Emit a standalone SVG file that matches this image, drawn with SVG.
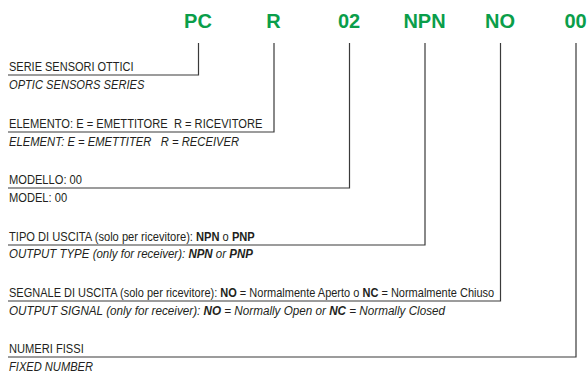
<svg xmlns="http://www.w3.org/2000/svg" width="587" height="372" viewBox="0 0 587 372">
<style>
.code{font-family:"Liberation Sans",Arial,sans-serif;font-weight:bold;font-size:20px;fill:#0a9e4a;text-anchor:middle}
.lbl{font-family:"Liberation Sans",Arial,sans-serif;font-size:12.5px;fill:#231f20;white-space:pre}
.it{font-style:italic}
.b{font-weight:bold}
.conn{fill:none;stroke:#3a3a3a;stroke-width:1.2}
</style>
<rect width="587" height="372" fill="#fff"/>
<g id="codes">
<text class="code" x="198" y="28">PC</text>
<text class="code" x="273.5" y="28">R</text>
<text class="code" x="349" y="28">02</text>
<text class="code" x="424.5" y="28">NPN</text>
<text class="code" x="500" y="28">NO</text>
<text class="code" x="575.5" y="28">00</text>
</g>
<g id="connectors">
<path class="conn" d="M198.5,43V75H8"/>
<path class="conn" d="M274,43V132H8"/>
<path class="conn" d="M349.5,43V188H8"/>
<path class="conn" d="M425,43V245H8"/>
<path class="conn" d="M500.5,43V301H8"/>
<path class="conn" d="M576,43V357H8"/>
</g>
<g id="node-serie">
<text class="lbl" x="0" y="71" transform="translate(9,0) scale(0.88,1)">SERIE SENSORI OTTICI</text>
<text class="lbl it" x="0" y="89" transform="translate(9,0) scale(0.89,1)">OPTIC SENSORS SERIES</text>
</g>
<g id="node-elemento">
<text class="lbl" x="0" y="128.5" transform="translate(9,0) scale(0.89,1)">ELEMENTO: E = EMETTITORE  R = RICEVITORE</text>
<text class="lbl it" x="0" y="146" transform="translate(9,0) scale(0.9,1)">ELEMENT: E = EMETTITER   R = RECEIVER</text>
</g>
<g id="node-modello">
<text class="lbl" x="0" y="184.5" transform="translate(9,0) scale(0.89,1)">MODELLO: 00</text>
<text class="lbl" x="0" y="202" transform="translate(9,0) scale(0.89,1)">MODEL: 00</text>
</g>
<g id="node-tipo">
<text class="lbl" x="0" y="241.5" transform="translate(9,0) scale(0.89,1)">TIPO DI USCITA (solo per ricevitore): <tspan class="b">NPN</tspan> o <tspan class="b">PNP</tspan></text>
<text class="lbl it" x="0" y="258" transform="translate(9,0) scale(0.92,1)">OUTPUT TYPE (only for receiver): <tspan class="b">NPN</tspan> or <tspan class="b">PNP</tspan></text>
</g>
<g id="node-segnale">
<text class="lbl" x="0" y="297.5" transform="translate(9,0) scale(0.881,1)">SEGNALE DI USCITA (solo per ricevitore): <tspan class="b">NO</tspan> = Normalmente Aperto o <tspan class="b">NC</tspan> = Normalmente Chiuso</text>
<text class="lbl it" x="0" y="315" transform="translate(9,0) scale(0.935,1)">OUTPUT SIGNAL (only for receiver): <tspan class="b">NO</tspan> = Normally Open or <tspan class="b">NC</tspan> = Normally Closed</text>
</g>
<g id="node-numeri">
<text class="lbl" x="0" y="353.5" transform="translate(9,0) scale(0.89,1)">NUMERI FISSI</text>
<text class="lbl it" x="0" y="371" transform="translate(9,0) scale(0.89,1)">FIXED NUMBER</text>
</g>
</svg>
